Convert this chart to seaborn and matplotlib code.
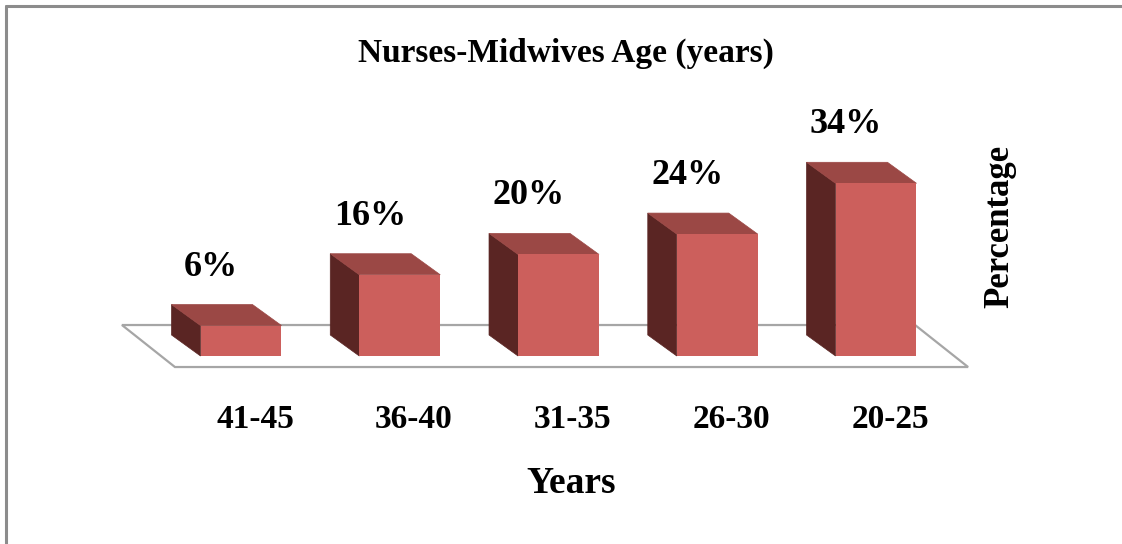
import numpy as np
import pandas as pd
import matplotlib
matplotlib.use("Agg")
import matplotlib.pyplot as plt
from matplotlib.patches import Polygon
from matplotlib.lines import Line2D
import seaborn as sns

# data
age_groups = ["41-45", "36-40", "31-35", "26-30", "20-25"]
percentages = [6, 16, 20, 24, 34]

df = pd.DataFrame({"age": age_groups, "pct": percentages})

sns.set_style("white")
plt.rcParams["font.family"] = ["Liberation Serif", "DejaVu Serif"]
plt.rcParams["font.weight"] = "bold"
plt.rcParams["text.color"] = "black"

front_col = "#CC5F5C"
top_col = "#9B4845"
side_col = "#5A2523"

W, H = 1122, 544
fig = plt.figure(figsize=(W / 100, H / 100), dpi=100)
ax = fig.add_axes([0, 0, 1, 1])

# pixel layout: category spacing and scale of one percent
px_cat = 158.75
px_pct = 5.08
x0_px, y0_px = 241, 356  # centre of first bar, baseline (from top)

sns.barplot(data=df, x="age", y="pct", order=age_groups, color=front_col,
            width=0.51, saturation=1, linewidth=0, edgecolor=front_col,
            ax=ax, zorder=3)

ax.set_xlim(-x0_px / px_cat, (W - x0_px) / px_cat)
ax.set_ylim(-(H - y0_px) / px_pct, y0_px / px_pct)
ax.set_axis_off()

# depth offset (up-left), in data units
dx = -29 / px_cat
dy = 21 / px_pct

# floor
n = len(age_groups)
fl_l = -0.5 - 0.25
fl_r = n - 0.5 + 0.08
fl_top = 6.1
fl_bot = -2.17
shift = 53 / px_cat
floor = Polygon([(fl_l, fl_top), (fl_r - shift, fl_top), (fl_r, fl_bot),
                 (fl_l + shift, fl_bot)], closed=True, facecolor="white",
                edgecolor="#A6A6A6", lw=1.6, zorder=1)
ax.add_patch(floor)

for bar, val in zip(ax.patches[:n], percentages):
    bx = bar.get_x()
    bw = bar.get_width()
    h = bar.get_height()
    side = Polygon([(bx, 0), (bx, h), (bx + dx, h + dy), (bx + dx, dy)],
                   closed=True, facecolor=side_col, edgecolor=side_col, lw=0.5, zorder=2)
    top = Polygon([(bx, h), (bx + bw, h), (bx + bw + dx, h + dy), (bx + dx, h + dy)],
                  closed=True, facecolor=top_col, edgecolor=top_col, lw=0.5, zorder=2)
    ax.add_patch(side)
    ax.add_patch(top)
    ax.text(bx + bw / 2 - 30 / px_cat, h + 50 / px_pct, f"{val}%", ha="center",
            va="baseline", fontsize=26, fontweight="bold")

for i, lab in enumerate(age_groups):
    ax.text(i + 14 / px_cat, -(428 - y0_px) / px_pct, lab, ha="center",
            va="baseline", fontsize=24, fontweight="bold")

fig.text(566 / W, 1 - 62 / H, "Nurses-Midwives Age (years)", ha="center",
         va="baseline", fontsize=24, fontweight="bold")
fig.text(571 / W, 1 - 493 / H, "Years", ha="center", va="baseline",
         fontsize=27, fontweight="bold")
fig.text(1000 / W, 1 - 226 / H, "Percentage", ha="center", va="center",
         rotation=90, fontsize=25, fontweight="bold")

# outer frame (top and left visible)
fig.add_artist(Line2D([6 / W, 1], [1 - 6 / H, 1 - 6 / H], color="#8C8C8C", lw=2.2))
fig.add_artist(Line2D([6 / W, 6 / W], [0, 1 - 6 / H], color="#8C8C8C", lw=2.2))

fig.savefig("out.png", dpi=100)
